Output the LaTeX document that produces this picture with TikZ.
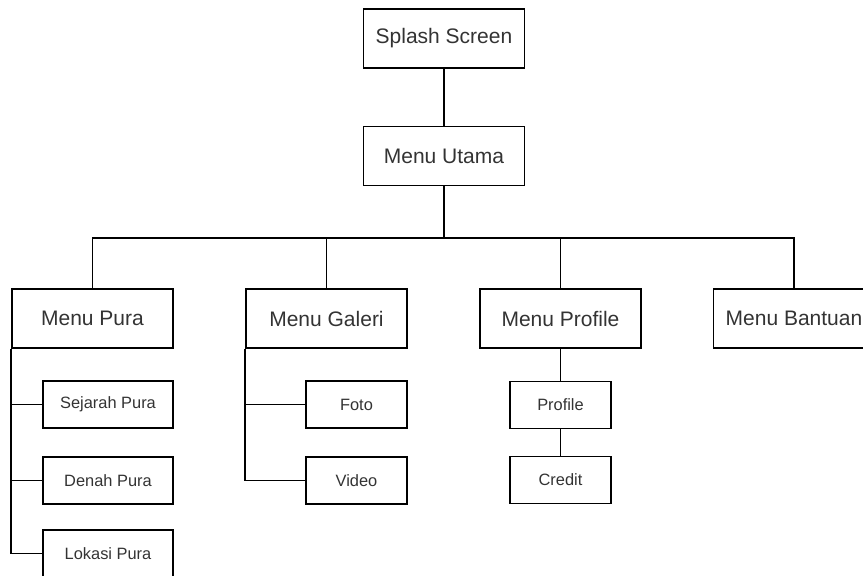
\documentclass[tikz,border=0pt]{standalone}
\usepackage{fontspec}
\setmainfont{Liberation Sans}
\usepackage{tikz}

\begin{document}
\begin{tikzpicture}[x=1pt,y=-1pt,line width=1.7pt,
		menu/.style={draw, minimum width=161pt, minimum height=59pt, inner sep=0pt, text=black!80, font=\fontsize{21}{24}\selectfont},
		submenu/.style={draw, minimum width=130pt, minimum height=47pt, inner sep=0pt, text=black!80, font=\fontsize{16.4}{19}\selectfont},
		subsmall/.style={submenu, minimum width=101pt}]
		\clip (0,0) rectangle (863,576);
		\node[menu] (splash) at (444,38.5) {Splash Screen};
		\node[menu] (utama) at (444,156) {Menu Utama};
		\coordinate (bus) at (444,238);
		\node[menu] (pura) at (92.5,318.5) {Menu Pura};
		\node[menu] (galeri) at (326.5,318.5) {Menu Galeri};
		\node[menu] (profil) at (560.5,318.5) {Menu Profile};
		\node[menu] (bantuan) at (794,318.5) {Menu Bantuan};
		\node[submenu] (sejarah) at (108,404.5) {Sejarah Pura};
		\node[submenu] (denah) at (108,480.5) {Denah Pura};
		\node[submenu] (lokasi) at (108,553.5) {Lokasi Pura};
		\node[subsmall] (foto) at (356.5,404.5) {Foto};
		\node[subsmall] (video) at (356.5,480.5) {Video};
		\node[subsmall] (profile) at (560.5,405) {Profile};
		\node[subsmall] (credit) at (560.5,480) {Credit};
		\draw (splash) -- (utama);
		\draw (utama) -- (bus);
		\draw (pura.north) -- (pura.north |- bus) -- (bantuan.north |- bus) -- (bantuan.north);
		\draw (galeri.north) -- (galeri.north |- bus);
		\draw (profil.north) -- (profil.north |- bus);
		\draw (pura.south west) |- (sejarah.west);
		\draw (pura.south west) |- (denah.west);
		\draw (pura.south west) |- (lokasi.west);
		\draw (galeri.south west) |- (foto.west);
		\draw (galeri.south west) |- (video.west);
		\draw (profil) -- (profile);
		\draw (profile) -- (credit);
	\end{tikzpicture}
\end{document}
